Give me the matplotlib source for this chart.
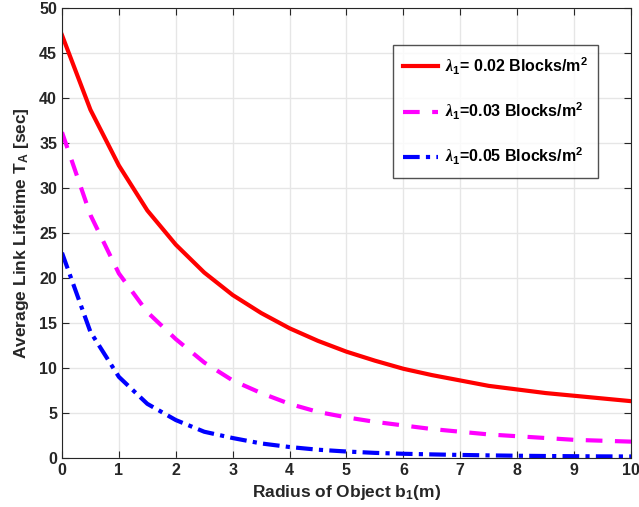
import matplotlib
matplotlib.use("Agg")
import matplotlib.pyplot as plt
import numpy as np

plt.rcParams['font.family'] = ['Liberation Sans', 'DejaVu Sans']
plt.rcParams['font.weight'] = 'bold'
plt.rcParams['axes.labelweight'] = 'bold'
plt.rcParams['mathtext.fontset'] = 'custom'
plt.rcParams['mathtext.rm'] = 'Liberation Sans:bold'
plt.rcParams['mathtext.bf'] = 'Liberation Sans:bold'
plt.rcParams['mathtext.it'] = 'Liberation Serif:italic'
plt.rcParams['mathtext.default'] = 'rm'

radius = np.arange(0, 10.5, 0.5)
lt_002 = [47.0, 38.7, 32.5, 27.5, 23.7, 20.6, 18.1, 16.1, 14.4, 13.0, 11.8,
          10.8, 9.9, 9.2, 8.6, 8.0, 7.6, 7.2, 6.9, 6.6, 6.3]
lt_003 = [36.2, 27.0, 20.5, 16.2, 13.2, 10.6, 8.6, 7.2, 6.0, 5.1, 4.5,
          4.0, 3.6, 3.2, 2.9, 2.6, 2.4, 2.2, 2.0, 1.9, 1.8]
lt_005 = [22.8, 14.0, 9.0, 6.0, 4.2, 2.9, 2.2, 1.6, 1.2, 0.9, 0.7,
          0.55, 0.45, 0.38, 0.32, 0.27, 0.23, 0.2, 0.18, 0.16, 0.15]

fig = plt.figure(figsize=(6.39, 5.07), dpi=100)
ax = fig.add_axes([0.097, 0.097, 0.8905, 0.887])

ax.plot(radius, lt_002, color='red', lw=3, ls='-',
        label=r'$\mathit{\lambda}_1$= 0.02 Blocks/m$^2$')
ax.plot(radius, lt_003, color='magenta', lw=3, ls=(0, (4, 3)),
        label=r'$\mathit{\lambda}_1$=0.03 Blocks/m$^2$')
ax.plot(radius, lt_005, color='blue', lw=3, ls=(0, (4, 1.5, 1, 1.5)),
        label=r'$\mathit{\lambda}_1$=0.05 Blocks/m$^2$')

ax.set_xlim(0, 10)
ax.set_ylim(0, 50)
ax.set_xticks(range(0, 11))
ax.set_yticks(range(0, 51, 5))
ax.grid(True, color='#e6e6e6', lw=1)
ax.set_axisbelow(True)
ax.tick_params(direction='in', top=True, right=True, labelsize=11.5,
               colors='#262626', length=5)
for s in ax.spines.values():
    s.set_color('#262626')

ax.set_xlabel('Radius of Object b$_1$(m)', fontsize=12.5,
              color='#262626', labelpad=4)
ax.set_ylabel('Average Link Lifetime T$_A$ [sec]', fontsize=12.5,
              color='#262626', labelpad=6)

leg = ax.legend(loc='upper right', bbox_to_anchor=(0.942, 0.918), fontsize=11.5,
                frameon=True, fancybox=False, edgecolor='#262626',
                handlelength=2.2, labelspacing=1.5, borderpad=0.65,
                handletextpad=0.4, borderaxespad=0)
leg.get_frame().set_linewidth(1)
for t in leg.get_texts():
    t.set_color('black')

fig.savefig('out.png', dpi=100)
